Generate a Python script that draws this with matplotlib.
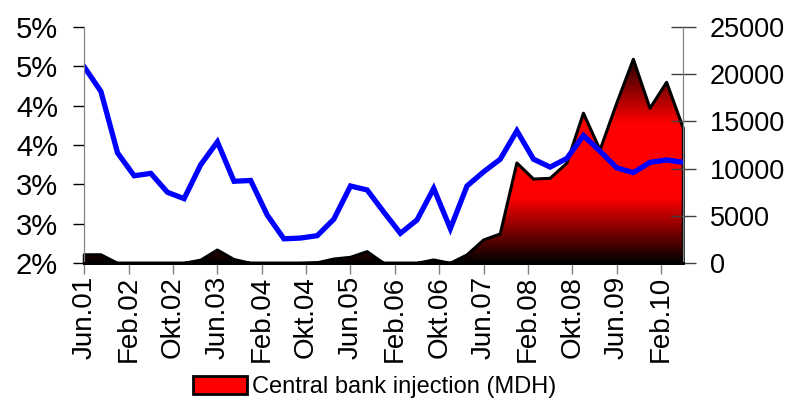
import numpy as np
import matplotlib
matplotlib.use("Agg")
import matplotlib.pyplot as plt
from matplotlib.colors import LinearSegmentedColormap
from matplotlib.patches import Patch
from matplotlib.ticker import FuncFormatter

plt.rcParams['font.family'] = ['Liberation Sans', 'DejaVu Sans']

# quarterly observations, Jun.01 .. Jun.10
rate = [4.49, 4.18, 3.40, 3.11, 3.14, 2.90, 2.82, 3.25, 3.54, 3.04,
        3.05, 2.61, 2.31, 2.32, 2.35, 2.56, 2.98, 2.93, 2.65, 2.38,
        2.55, 2.95, 2.44, 2.98, 3.16, 3.32, 3.68, 3.32, 3.22, 3.33,
        3.62, 3.42, 3.21, 3.15, 3.28, 3.31, 3.28]
injection = [900, 900, 0, 0, 0, 0, 0, 330, 1400, 400,
             0, 0, 0, 0, 50, 450, 630, 1230, 0, 0,
             0, 350, 0, 880, 2460, 3100, 10600, 8900, 8980, 10570,
             15860, 11980, 16910, 21560, 16380, 19130, 14270]
tick_labels = ['Jun.01', 'Feb.02', 'Okt.02', 'Jun.03', 'Feb.04', 'Okt.04', 'Jun.05',
               'Feb.06', 'Okt.06', 'Jun.07', 'Feb.08', 'Okt.08', 'Jun.09', 'Feb.10']
tick_step_months = 8
legend_label = 'Central bank injection (MDH)'

x = np.arange(len(rate))
inj = np.array(injection, dtype=float)

fig = plt.figure(figsize=(7.89, 4.03), dpi=100)
ax = fig.add_axes([0.1068, 0.3467, 0.866 - 0.1068, 0.9337 - 0.3467])
ax2 = ax.twinx()

# area with vertical gradient (black - red - black), clipped to the polygon
poly = ax.fill_between(x, 0, inj, facecolor='none', edgecolor='none')
cmap = LinearSegmentedColormap.from_list(
    'inj', [(0, '#000000'), (0.32, '#ff0000'), (0.68, '#ff0000'), (1.0, '#200000')])
grad = np.linspace(0, 1, 256).reshape(-1, 1)
im = ax.imshow(grad, extent=[x[0], x[-1], 0, inj.max()], origin='lower',
               aspect='auto', cmap=cmap, interpolation='bicubic')
im.set_clip_path(poly.get_paths()[0], transform=ax.transData)
ax.fill_between(x, 0, inj, facecolor='none', edgecolor='black', linewidth=2.2, clip_on=False)

ax2.plot(x, rate, color='#0000ff', linewidth=3.8, solid_joinstyle='miter')

ax.set_xlim(x[0], x[-1])
ax.set_ylim(0, 25000)
ax2.set_ylim(2, 5)

# area axis on the right, rate axis on the left
ax.yaxis.tick_right()
ax2.yaxis.tick_left()
ax.set_yticks(np.arange(0, 25001, 5000))
ax2.set_yticks(np.arange(2, 5.01, 0.5))
ax2.yaxis.set_major_formatter(FuncFormatter(lambda v, p: f'{int(v + 0.5)}%'))

ax.set_xticks(np.arange(len(tick_labels)) * tick_step_months / 3)
ax.set_xticklabels(tick_labels, rotation=90, fontsize=20)

ax.tick_params(axis='x', direction='out', length=8, width=1, color='#808080', pad=1)
ax.tick_params(axis='y', direction='inout', length=18, width=1, color='#404040',
               labelsize=19.5, pad=10)
ax2.tick_params(axis='y', direction='out', length=8, width=1, color='black',
                labelsize=21, pad=11)

for a in (ax, ax2):
    a.spines['top'].set_visible(False)
    a.spines['left'].set_color('#808080')
    a.spines['right'].set_color('#808080')
    a.spines['bottom'].set_color('black')
    a.spines['bottom'].set_linewidth(2)

handle = Patch(facecolor='#ff0000', edgecolor='black', linewidth=2)
fig.legend([handle], [legend_label], loc='center', bbox_to_anchor=(0.475, 0.04),
           frameon=False, fontsize=17, handlelength=2.3, handleheight=0.8,
           handletextpad=0.2, borderpad=0)

fig.savefig('out.png', dpi=100)
